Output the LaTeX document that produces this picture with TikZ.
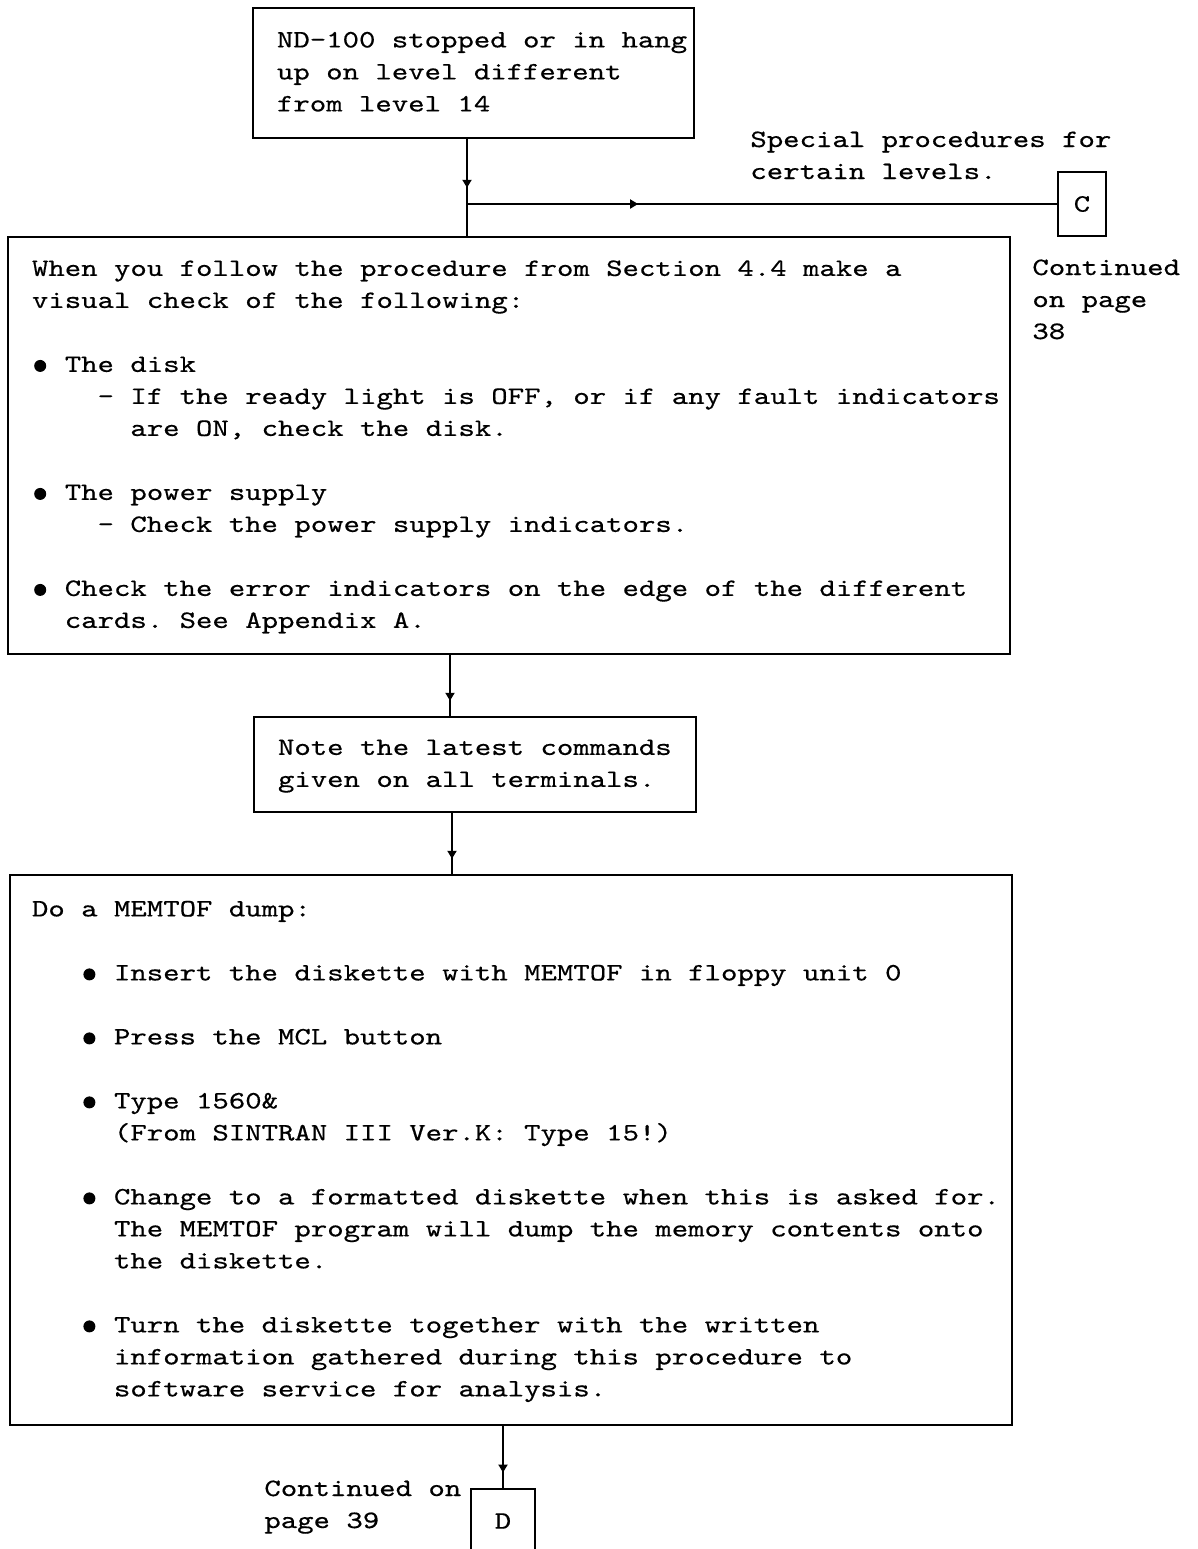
\documentclass[tikz,border=0pt]{standalone}
\usepackage{fontspec}
\usetikzlibrary{decorations.markings,arrows.meta}
\newfontfamily\tw[FakeStretch=1.25,FakeBold=0.5]{lmmono10-regular.otf}
\frenchspacing
\newlength\cw
\setlength\cw{8.2pt}
\newcommand\cc[1]{\hspace*{#1\cw}}
\newcommand\bul{\makebox[\cw]{\raisebox{0pt}{\tikz\fill (0,0) circle (3pt);}}}
\tikzset{
  txt/.style={font=\tw\fontsize{12.5}{16}\selectfont\frenchspacing},
  box/.style={draw, line width=1pt, inner sep=0pt, txt},
  flow/.style={line width=1pt, postaction={decorate},
    decoration={markings, mark=at position #1 with {\arrow{Triangle[width=4.5pt,length=4pt]}}}},
  flow/.default=0.75,
  plain/.style={line width=1pt}
}
\begin{document}
\begin{tikzpicture}[x=0.5pt,y=-0.5pt]
\useasboundingbox (0,0) rectangle (1198,1549);
\clip (0,0) rectangle (1198,1549);

% boxes
\node[box, minimum width=220.5pt, minimum height=65pt] (b1) at (473.5,73)
 {\makebox[220.5pt][l]{\hspace*{12pt}\begin{tabular}{@{}l@{}}
 ND-100 stopped or in hang\\
 up on level different\\
 from level 14
 \end{tabular}}};

\node[box, minimum width=24pt, minimum height=32pt] (c) at (1082,204) {C};

\node[box, minimum width=501pt, minimum height=208.5pt] (b2) at (509,445.5)
 {\makebox[501pt][l]{\hspace*{12pt}\begin{tabular}{@{}l@{}}
 When you follow the procedure from Section 4.4 make a\\
 visual check of the following:\\
 \\
 \bul\cc{1}The disk\\
 \cc{4}- If the ready light is OFF, or if any fault indicators\\
 \cc{6}are ON, check the disk.\\
 \\
 \bul\cc{1}The power supply\\
 \cc{4}- Check the power supply indicators.\\
 \\
 \bul\cc{1}Check the error indicators on the edge of the different\\
 \cc{2}cards. See Appendix A.
 \end{tabular}}};

\node[box, minimum width=221pt, minimum height=47.5pt] (b3) at (475,764.5)
 {\makebox[221pt][l]{\hspace*{12pt}\begin{tabular}{@{}l@{}}
 Note the latest commands\\
 given on all terminals.
 \end{tabular}}};

\node[box, minimum width=501pt, minimum height=275pt] (b4) at (511,1150)
 {\makebox[501pt][l]{\hspace*{11pt}\begin{tabular}{@{}l@{}}
 Do a MEMTOF dump:\\
 \\
 \cc{3}\bul\cc{1}Insert the diskette with MEMTOF in floppy unit 0\\
 \\
 \cc{3}\bul\cc{1}Press the MCL button\\
 \\
 \cc{3}\bul\cc{1}Type 1560\&\\
 \cc{5}(From SINTRAN III Ver.K: Type 15!)\\
 \\
 \cc{3}\bul\cc{1}Change to a formatted diskette when this is asked for.\\
 \cc{5}The MEMTOF program will dump the memory contents onto\\
 \cc{5}the diskette.\\
 \\
 \cc{3}\bul\cc{1}Turn the diskette together with the written\\
 \cc{5}information gathered during this procedure to\\
 \cc{5}software service for analysis.
 \end{tabular}}};

\node[box, minimum width=32pt, minimum height=32pt] (d) at (503,1521) {D};

% free texts
\node[txt, anchor=base west, inner sep=0pt] (sp) at (750,147)
 {\begin{tabular}[t]{@{}l@{}}Special procedures for\\certain levels.\end{tabular}};
\node[txt, anchor=base west, inner sep=0pt] (c38) at (1032,275)
 {\begin{tabular}[t]{@{}l@{}}Continued\\on page\\38\end{tabular}};
\node[txt, anchor=base west, inner sep=0pt] (c39) at (264,1496)
 {\begin{tabular}[t]{@{}l@{}}Continued on\\page 39\end{tabular}};

% connectors
\coordinate (k1) at (467,204);
\coordinate (k2) at (450,0);
\coordinate (k3) at (452,0);
\draw[flow=0.75] (b1.south -| k1) -- (k1);
\draw[plain] (k1) -- (k1 |- b2.north);
\draw[flow=0.29] (k1) -- (c.west);
\draw[flow=0.75] (b2.south -| k2) -- (b3.north -| k2);
\draw[flow=0.75] (b3.south -| k3) -- (b4.north -| k3);
\draw[flow=0.75] (b4.south -| d.north) -- (d.north);
\end{tikzpicture}
\end{document}
